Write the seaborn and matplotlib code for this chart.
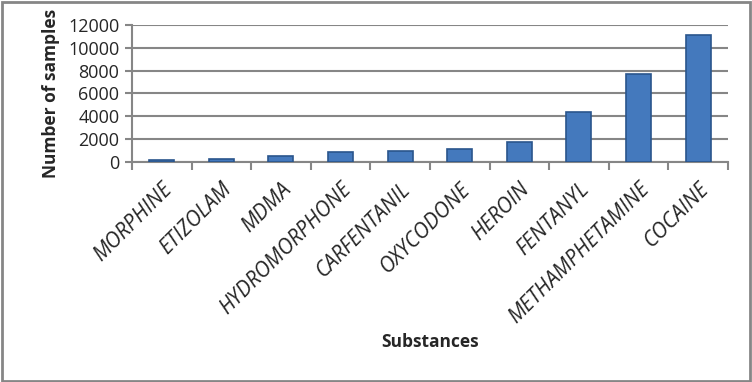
import matplotlib
matplotlib.use('Agg')
import matplotlib.pyplot as plt
import seaborn as sns
import pandas as pd
import numpy as np

substances = ['MORPHINE', 'ETIZOLAM', 'MDMA', 'HYDROMORPHONE', 'CARFENTANIL',
              'OXYCODONE', 'HEROIN', 'FENTANYL', 'METHAMPHETAMINE', 'COCAINE']
samples = [200, 300, 550, 850, 1000, 1100, 1750, 4350, 7700, 11100]
y_ticks = [0, 2000, 4000, 6000, 8000, 10000, 12000]

df = pd.DataFrame({'Substances': substances, 'Samples': samples})

sns.set_style('white')
plt.rcParams['font.family'] = ['Open Sans', 'DejaVu Sans']

fig = plt.figure(figsize=(7.52, 3.82), dpi=100)
ax = fig.add_axes([0.1755, 0.576, 0.7925, 0.3585])

sns.barplot(x='Substances', y='Samples', data=df, color='#4479bd',
            edgecolor='#2a558c', linewidth=1.2, width=0.42, saturation=1, ax=ax, zorder=3)

ax.set_ylim(0, 12000)
ax.set_xlim(-0.5, len(substances) - 0.5)
ax.set_yticks(y_ticks)
ax.set_yticklabels([str(t) for t in y_ticks], fontsize=13)
ax.yaxis.grid(True, color='#868686', linewidth=1.5, zorder=0)
ax.tick_params(axis='y', length=5, width=1.5, color='#868686', pad=4, left=True)

# ticks between categories
ax.set_xticks(np.arange(len(substances)))
ax.set_xticklabels(substances, rotation=45, ha='right', rotation_mode='anchor', fontsize=15, style='italic')
ax.tick_params(axis='x', length=0, pad=12)
ax.set_xticks(np.arange(-0.5, len(substances)), minor=True)
ax.tick_params(axis='x', which='minor', length=6, width=1.5, color='#868686', bottom=True)

for side in ['top', 'right']:
    ax.spines[side].set_visible(False)
for side in ['left', 'bottom']:
    ax.spines[side].set_color('#868686')
    ax.spines[side].set_linewidth(1.5)

ax.set_ylabel('Number of samples', fontsize=12.5, fontweight='bold', labelpad=6)
ax.set_xlabel('Substances', fontsize=12.5, fontweight='bold', labelpad=4)

# grey frame around the whole chart
fig.patches.append(plt.Rectangle((0.002, 0.003), 0.995, 0.993, transform=fig.transFigure,
                                 fill=False, edgecolor='#868686', linewidth=2))

plt.savefig('out.png', dpi=100)
